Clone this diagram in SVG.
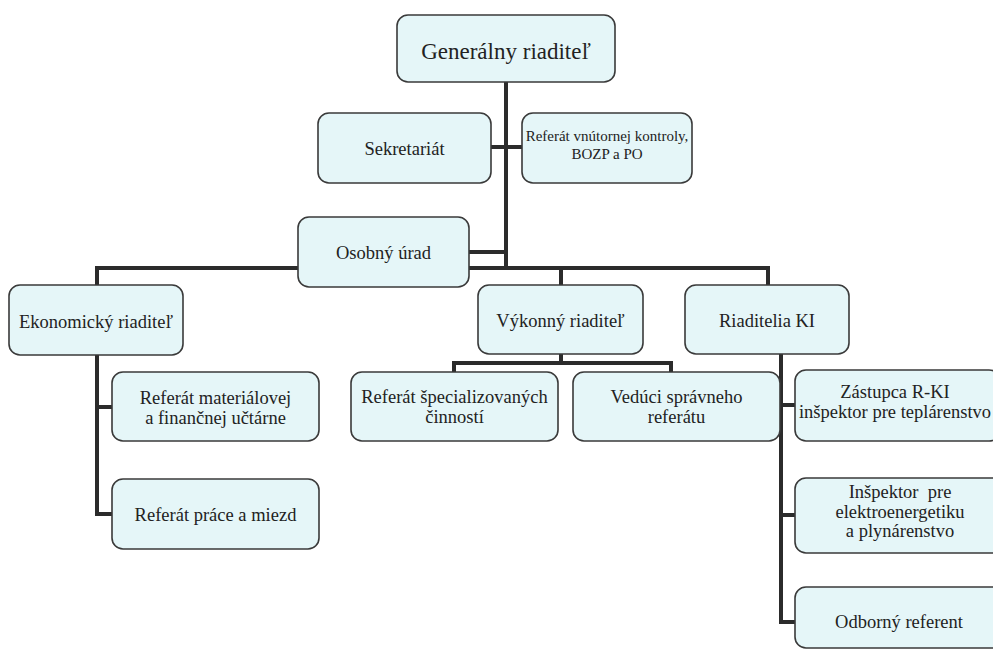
<svg xmlns="http://www.w3.org/2000/svg" width="993" height="650" viewBox="0 0 993 650">
<style>
.box{fill:#e5f6f8;stroke:#3a3a3a;stroke-width:1.6}
.t{font-family:'Liberation Serif','DejaVu Serif','Noto Serif',serif;font-size:18.5px;fill:#222;text-anchor:middle}
.c{fill:none;stroke:#2b2b2b;stroke-width:4;stroke-linecap:square;stroke-linejoin:miter}
</style>
<rect width="993" height="650" fill="#fff"/>
<g id="connectors">
<path class="c" d="M506 82V268M491 147H522M469 252H506M97 285V268H768V285M561 268V285"/>
<path class="c" d="M97 355V514H112M97 407H112"/>
<path class="c" d="M561 354V363M454 372V363H671V372"/>
<path class="c" d="M781 354V622H795M781 405H795M781 515H795"/>
</g>
<g id="generalny"><rect class="box" x="397" y="15" width="218" height="67" rx="11"/><text class="t" x="506" y="59" font-family="Liberation Serif, serif" style="font-size:23px">Generálny riaditeľ</text></g>
<g id="sekretariat"><rect class="box" x="318" y="113" width="173" height="70" rx="11"/><text class="t" x="404.5" y="155">Sekretariát</text></g>
<g id="kontrola"><rect class="box" x="522" y="113" width="170" height="70" rx="11"/><text class="t" x="607" y="141" style="font-size:15px">Referát vnútornej kontroly,</text><text class="t" x="607" y="159" style="font-size:15px">BOZP a PO</text></g>
<g id="osobny"><rect class="box" x="298" y="217" width="171" height="70" rx="11"/><text class="t" x="383.5" y="259">Osobný úrad</text></g>
<g id="ekonomicky"><rect class="box" x="9" y="285" width="174" height="70" rx="11"/><text class="t" x="96" y="328">Ekonomický riaditeľ</text></g>
<g id="vykonny"><rect class="box" x="478" y="285" width="165" height="69" rx="11"/><text class="t" x="560.5" y="327">Výkonný riaditeľ</text></g>
<g id="riaditelia"><rect class="box" x="685" y="285" width="164" height="69" rx="11"/><text class="t" x="767" y="327">Riaditelia KI</text></g>
<g id="material"><rect class="box" x="112" y="372" width="207" height="69" rx="11"/><text class="t" x="215.5" y="404">Referát materiálovej</text><text class="t" x="215.5" y="424">a finančnej učtárne</text></g>
<g id="mzdy"><rect class="box" x="112" y="479" width="207" height="70" rx="11"/><text class="t" x="215.5" y="521">Referát práce a miezd</text></g>
<g id="specializovane"><rect class="box" x="351" y="372" width="207" height="69" rx="11"/><text class="t" x="454.5" y="403">Referát špecializovaných</text><text class="t" x="454.5" y="423">činností</text></g>
<g id="spravny"><rect class="box" x="573" y="372" width="207" height="69" rx="11"/><text class="t" x="676.5" y="403">Vedúci správneho</text><text class="t" x="676.5" y="423">referátu</text></g>
<g id="zastupca"><rect class="box" x="795" y="370" width="205" height="71" rx="11"/><text class="t" x="895" y="398">Zástupca R-KI</text><text class="t" x="895" y="418">inšpektor pre teplárenstvo</text></g>
<g id="inspektor"><rect class="box" x="795" y="478" width="210" height="75" rx="11"/><text class="t" x="900" y="498" xml:space="preserve">Inšpektor  pre</text><text class="t" x="900" y="518">elektroenergetiku</text><text class="t" x="900" y="537">a plynárenstvo</text></g>
<g id="odborny"><rect class="box" x="795" y="587" width="210" height="61" rx="11"/><text class="t" x="899" y="628">Odborný referent</text></g>
</svg>
